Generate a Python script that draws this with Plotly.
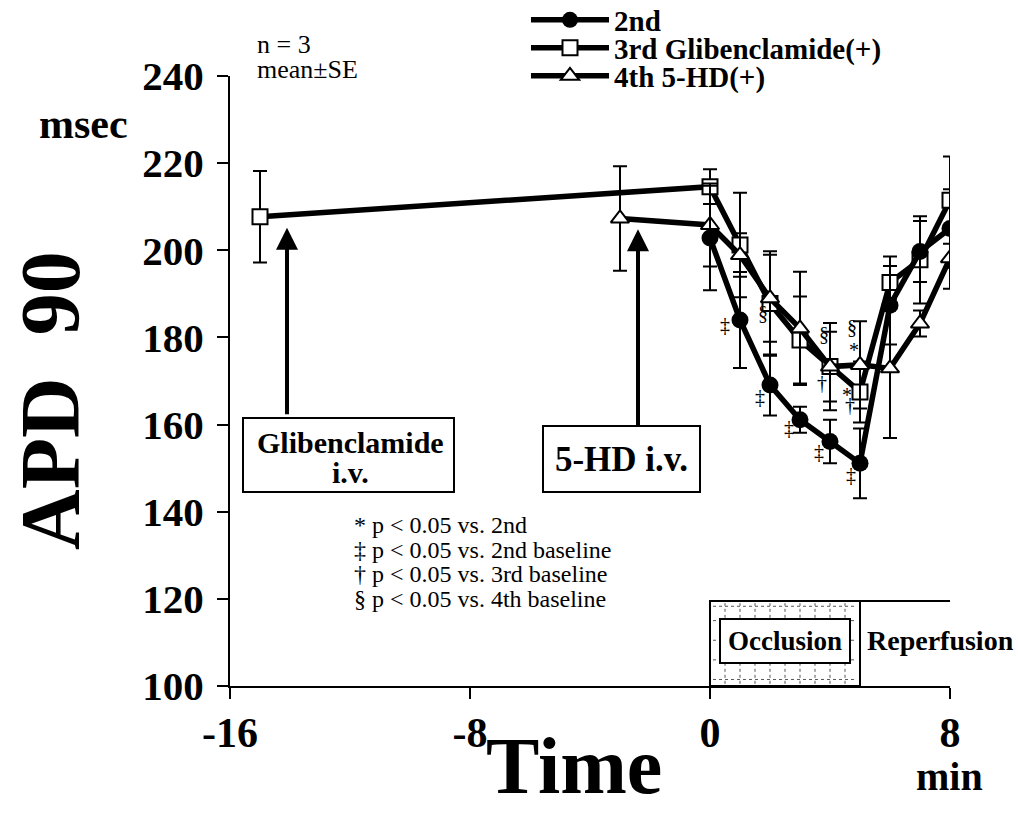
import plotly.graph_objects as go

# ---------------- data ----------------
time_2nd = [0, 1, 2, 3, 4, 5, 6, 7, 8]
apd_2nd = [202.8, 184.0, 169.1, 161.1, 156.1, 151.1, 187.4, 199.7, 205.0]
se_2nd = [12, 11, 7, 3, 5, 8, 9, 7, 9]

time_3rd = [-15, 0, 1, 2, 3, 4, 5, 6, 7, 8]
apd_3rd = [207.7, 214.6, 201.2, 187.8, 179.4, 173.3, 167.5, 192.6, 197.8, 211.5]
se_3rd = [10.5, 4, 12, 12, 10, 10, 7, 6, 10, 10]

time_4th = [-3, 0, 1, 2, 3, 4, 5, 6, 7, 8]
apd_4th = [207.3, 205.8, 198.9, 189.0, 182.1, 173.3, 173.7, 172.9, 183.2, 198.2]
se_4th = [12, 9.5, 5, 10, 13, 8, 10, 16, 3, 7]

series_names = ["2nd", "3rd Glibenclamide(+)", "4th 5-HD(+)"]

x_ticks = [-16, -8, 0, 8]
y_ticks = [100, 120, 140, 160, 180, 200, 220, 240]

# significance marks (symbol, time, value)
sig_symbols = ["‡", "‡", "‡", "‡", "‡", "§", "§", "§", "*", "*", "†", "†"]
sig_x = [0.49, 1.67, 2.62, 3.62, 4.69, 1.78, 3.79, 4.74, 4.8, 4.58, 3.74, 4.66]
sig_y = [182.9, 166.4, 159.1, 153.8, 148.4, 185.5, 180.9, 182.5, 177.1, 166.8, 169.5, 164.5]

footnotes = ["* p < 0.05 vs. 2nd", "‡ p < 0.05 vs. 2nd baseline",
             "† p < 0.05 vs. 3rd baseline", "§ p < 0.05 vs. 4th baseline"]

SERIF = "Liberation Serif"
BOLD = dict(family=SERIF, color="black", weight="bold")

W, H = 1018, 813
L, R, T, B = 230, 68, 76, 127
pw, ph = W - L - R, H - T - B
X0, X1, Y0, Y1 = -16, 8, 100, 240


def px(xp, yp):
    return (xp - L) / pw, (H - B - yp) / ph


def dx(xp):
    return X0 + (xp - L) / pw * (X1 - X0)


def dy(yp):
    return Y0 + (H - B - yp) / ph * (Y1 - Y0)


fig = go.Figure()

err_style = dict(type="data", thickness=2, width=7, color="black")

fig.add_trace(go.Scatter(
    x=time_3rd, y=apd_3rd, name=series_names[1], mode="lines+markers",
    line=dict(color="black", width=5.5),
    marker=dict(symbol="square", size=15, color="white", line=dict(color="black", width=2)),
    error_y=dict(array=se_3rd, **err_style), legend="legend2"))
fig.add_trace(go.Scatter(
    x=time_4th, y=apd_4th, name=series_names[2], mode="lines+markers",
    line=dict(color="black", width=5.5),
    marker=dict(symbol="triangle-up", size=16, color="white", line=dict(color="black", width=2)),
    error_y=dict(array=se_4th, **err_style), legend="legend3"))
fig.add_trace(go.Scatter(
    x=time_2nd, y=apd_2nd, name=series_names[0], mode="lines+markers",
    line=dict(color="black", width=5.5),
    marker=dict(symbol="circle", size=17, color="black"),
    error_y=dict(array=se_2nd, **err_style), legend="legend"))

shapes = []
# occlusion box with dotted pattern
occ_top = 119.5
shapes.append(dict(type="rect", xref="x", yref="y", x0=0, x1=5, y0=100, y1=occ_top,
                   line=dict(color="black", width=2), fillcolor="rgba(0,0,0,0)", layer="below"))
shapes.append(dict(type="line", xref="x", yref="y", x0=5, x1=8, y0=occ_top, y1=occ_top,
                   line=dict(color="black", width=2)))
for i in range(1, 10):
    xv = i * 0.5
    shapes.append(dict(type="line", xref="x", yref="y", x0=xv, x1=xv, y0=100.5, y1=occ_top - 0.5,
                       line=dict(color="#555", width=1, dash="dot"), layer="below"))
for yv in [101.5, 106, 110.5, 115, 118.3]:
    shapes.append(dict(type="line", xref="x", yref="y", x0=0.1, x1=4.9, y0=yv, y1=yv,
                       line=dict(color="#555", width=1, dash="dot"), layer="below"))
# Glibenclamide box
shapes.append(dict(type="rect", xref="x", yref="y", x0=dx(243), x1=dx(454), y0=dy(492), y1=dy(418),
                   line=dict(color="black", width=2), fillcolor="white"))

ann = []
# arrows
ann.append(dict(x=-14.1, y=205.2, ax=-14.1, ay=162, xref="x", yref="y", axref="x", ayref="y",
                showarrow=True, arrowhead=2, arrowsize=1.1, arrowwidth=4, arrowcolor="black", text=""))
ann.append(dict(x=-2.4, y=204.8, ax=-2.4, ay=159.5, xref="x", yref="y", axref="x", ayref="y",
                showarrow=True, arrowhead=2, arrowsize=1.1, arrowwidth=4, arrowcolor="black", text=""))
# box texts
ann.append(dict(x=dx(350), y=dy(442), xref="x", yref="y", showarrow=False,
                text="Glibenclamide", font=dict(size=30, **BOLD)))
ann.append(dict(x=dx(350), y=dy(472), xref="x", yref="y", showarrow=False,
                text="i.v.", font=dict(size=30, **BOLD)))
ann.append(dict(x=-2.95, y=152.2, xref="x", yref="y", showarrow=False,
                text="5-HD i.v.", font=dict(size=35, **BOLD),
                bordercolor="black", borderwidth=2, bgcolor="white", width=155, height=64, borderpad=0))
ann.append(dict(x=2.5, y=110.3, xref="x", yref="y", showarrow=False,
                text="Occlusion", font=dict(size=27, **BOLD),
                bordercolor="black", borderwidth=2, bgcolor="white", width=128, height=42, borderpad=0))
# significance marks
for s, xv, yv in zip(sig_symbols, sig_x, sig_y):
    ann.append(dict(x=xv, y=yv, xref="x", yref="y", showarrow=False, text=s,
                    font=dict(family=SERIF, size=20, color="black")))
# footnotes
for i, t in enumerate(footnotes):
    xx, yy = px(352, 525 + i * 24.7)
    ann.append(dict(x=xx, y=yy, xref="paper", yref="paper", xanchor="left", yanchor="middle",
                    showarrow=False, text=t, font=dict(family=SERIF, size=24, color="black")))

for text, (xp, yp), size, bold, anchor in [
    ("n = 3", (255, 45), 26, False, "left"),
    ("mean±SE", (255, 70), 26, False, "left"),
    ("msec", (83, 124), 42, True, "center"),
    ("min", (949, 776), 40, True, "center"),
    ("Time", (574, 766), 80, True, "center"),
    ("Reperfusion", (940, 640), 28, True, "center"),
]:
    xx, yy = px(xp, yp)
    f = dict(size=size, **BOLD) if bold else dict(family=SERIF, size=size, color="black")
    ann.append(dict(x=xx, y=yy, xref="paper", yref="paper", showarrow=False, text=text,
                    xanchor=anchor, yanchor="middle", font=f))
xx, yy = px(50, 401)
ann.append(dict(x=xx, y=yy, xref="paper", yref="paper", showarrow=False, text="APD  90",
                xanchor="center", yanchor="middle",
                textangle=-90, font=dict(size=84, **BOLD)))

leg_common = dict(xanchor="left", yanchor="middle", font=dict(size=29, **BOLD),
                  bgcolor="rgba(0,0,0,0)", itemwidth=78)
lx = (526 - L) / pw

fig.update_layout(
    width=W, height=H,
    margin=dict(l=L, r=R, t=T, b=B, autoexpand=False),
    paper_bgcolor="white", plot_bgcolor="white",
    shapes=shapes, annotations=ann,
    showlegend=True,
    legend=dict(x=lx, y=px(0, 20)[1], **leg_common),
    legend2=dict(x=lx, y=px(0, 48)[1], **leg_common),
    legend3=dict(x=lx, y=px(0, 76)[1], **leg_common),
    xaxis=dict(range=[X0, X1], tickvals=x_ticks, ticktext=[str(v) for v in x_ticks],
               showline=True, linecolor="black", linewidth=2, ticks="outside", ticklen=11,
               tickwidth=2, tickcolor="black", showgrid=False, zeroline=False,
               tickfont=dict(size=42, **BOLD), ticklabelstandoff=-2),
    yaxis=dict(range=[Y0, Y1], tickvals=y_ticks, showline=True, linecolor="black", linewidth=2,
               ticks="outside", ticklen=11, tickwidth=2, tickcolor="black", showgrid=False,
               zeroline=False, tickfont=dict(size=41, **BOLD), ticklabelstandoff=5),
)

fig.write_html("out.html")
